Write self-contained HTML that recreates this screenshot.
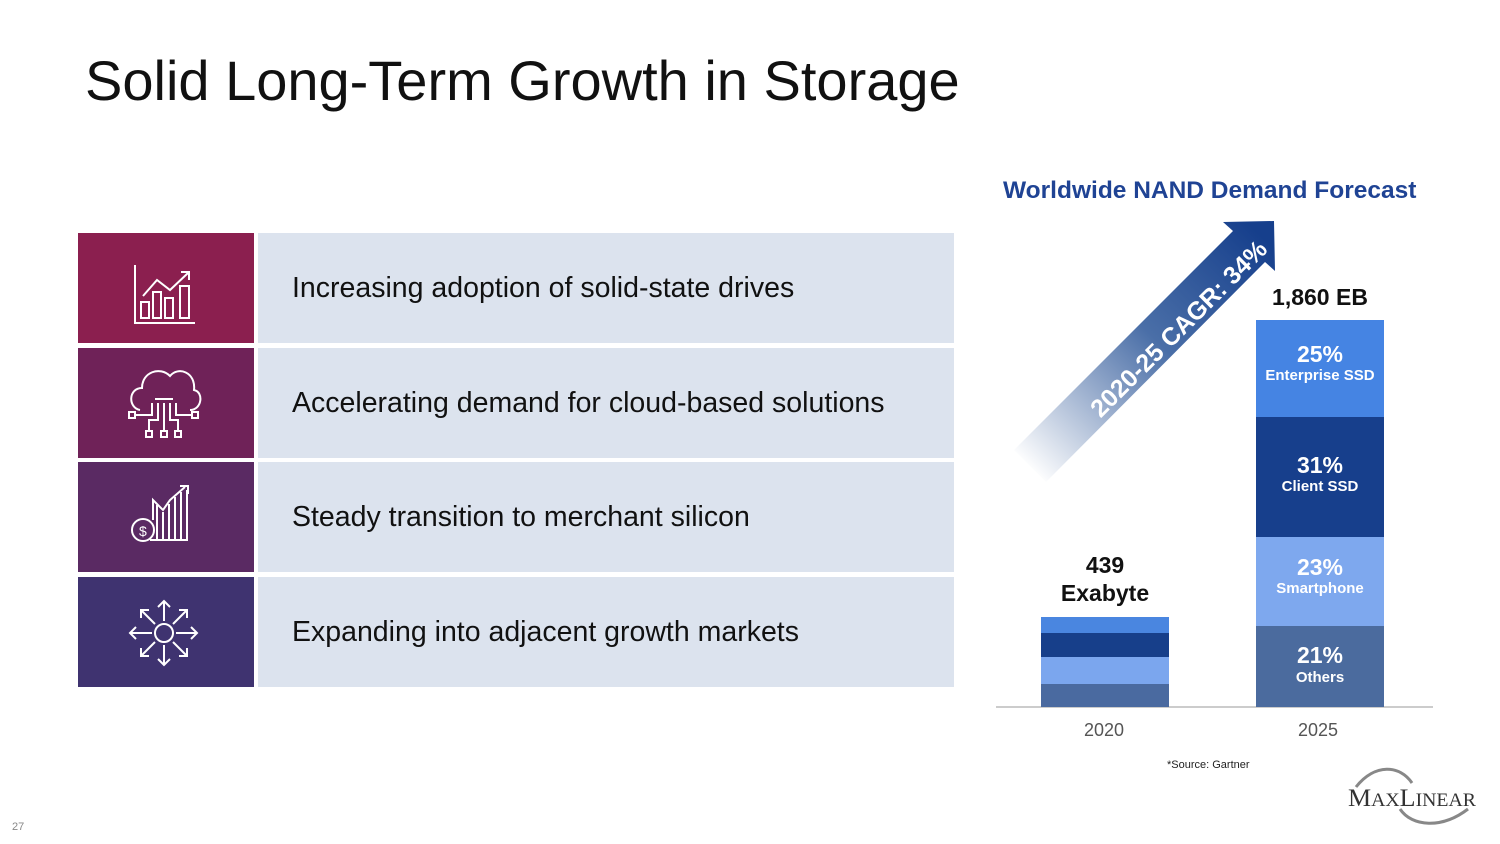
<!DOCTYPE html>
<html><head><meta charset="utf-8"><style>
body{margin:0;width:1500px;height:844px;background:#fff;position:relative;overflow:hidden;font-family:"Liberation Sans",sans-serif}
.a{position:absolute}
.ib{position:absolute;left:78px;width:176px;height:110px}
.tp{position:absolute;left:258px;width:696px;height:110px;background:#dce3ee;font-size:28.5px;color:#111;line-height:110px;box-sizing:border-box;padding-left:34px}
.seg{position:absolute;color:#fff;text-align:center;font-weight:bold}
</style></head><body>
<div class="a" style="left:85px;top:48px;font-size:56px;color:#111">Solid Long-Term Growth in Storage</div>

<div class="ib" style="top:233px;background:#8b1f4f"></div>
<div class="ib" style="top:348px;background:#6f2258"></div>
<div class="ib" style="top:462px;background:#5a2a63"></div>
<div class="ib" style="top:577px;background:#3f3370"></div>
<div class="tp" style="top:233px">Increasing adoption of solid-state drives</div>
<div class="tp" style="top:348px">Accelerating demand for cloud-based solutions</div>
<div class="tp" style="top:462px">Steady transition to merchant silicon</div>
<div class="tp" style="top:577px">Expanding into adjacent growth markets</div>

<svg class="a" style="left:0;top:0" width="1500" height="844" fill="none" stroke="#fff" stroke-width="2">
<path d="M135 265V323H195M141 318V302H149V318ZM153 318V292H161V318ZM165 318V298H173V318ZM180 318V286H189V318ZM143 296L157 280L170 290L188 273M181 272H189V280"/>
<path d="M140 410C128 408 128 388 142 388C142 372 160 366 170 376C178 366 196 372 194 390C204 392 202 410 190 410"/>
<path d="M155 399H173M152 403V415H135M158 403V420H149V430M164 403V430M170 403V420H178V430M176 403V415H192"/>
<rect x="129" y="412" width="6" height="6"/><rect x="192" y="412" width="6" height="6"/><rect x="146" y="431" width="6" height="6"/><rect x="161" y="431" width="6" height="6"/><rect x="175" y="431" width="6" height="6"/>
<circle cx="143" cy="530" r="11"/><path d="M150 540H187V490M153 520V500L163 510L170 500L185 487M180 486H188V494M157 540V505M163 540V512M169 540V504M175 540V497M181 540V492"/>
<text x="139" y="536" fill="#fff" stroke="none" font-size="14">$</text>
<circle cx="164" cy="633" r="9"/><path d="M164 621V602M158 607L164 601L170 607M164 645V665M158 659L164 665L170 659M152 633H131M136 627L130 633L136 639M176 633H197M191 627L197 633L191 639M155 624L141 610M141 618V610H149M173 624L187 610M179 610H187V618M155 642L141 656M141 648V656H149M173 642L187 656M187 648V656H179"/>
</svg>

<div class="a" style="left:1003px;top:177px;font-size:24.5px;font-weight:bold;color:#1f4394">Worldwide NAND Demand Forecast</div>

<svg class="a" style="left:0;top:0" width="1500" height="844">
<defs><linearGradient id="g" x1="1030" y1="470" x2="1260" y2="235" gradientUnits="userSpaceOnUse">
<stop offset="0" stop-color="#1f4a8f" stop-opacity="0"/><stop offset="0.55" stop-color="#2a5598" stop-opacity="0.85"/><stop offset="1" stop-color="#163f8c"/></linearGradient></defs>
<polygon fill="url(#g)" points="1014,450 1233,231 1223,222 1274,221 1275,271 1265,262 1046,482"/>
<text x="0" y="0" transform="translate(1180,330) rotate(-45)" text-anchor="middle" dominant-baseline="middle" fill="#fff" font-weight="bold" font-size="25" font-family="Liberation Sans">2020-25 CAGR: 34%</text>
<line x1="996" y1="707" x2="1433" y2="707" stroke="#bbb" stroke-width="1.5"/>
<rect x="1041" y="617" width="128" height="16" fill="#4a86e0"/>
<rect x="1041" y="633" width="128" height="24" fill="#173f8a"/>
<rect x="1041" y="657" width="128" height="27" fill="#7ba6ee"/>
<rect x="1041" y="684" width="128" height="23" fill="#4a6aa0"/>
<rect x="1256" y="320" width="128" height="97" fill="#4584e3"/>
<rect x="1256" y="417" width="128" height="120" fill="#173f8c"/>
<rect x="1256" y="537" width="128" height="89" fill="#7ea8ee"/>
<rect x="1256" y="626" width="128" height="81" fill="#4b6b9e"/>
</svg>

<div class="seg" style="left:1256px;width:128px;top:341px;font-size:23px">25%</div>
<div class="seg" style="left:1256px;width:128px;top:367px;font-size:15px">Enterprise SSD</div>
<div class="seg" style="left:1256px;width:128px;top:452px;font-size:23px">31%</div>
<div class="seg" style="left:1256px;width:128px;top:478px;font-size:15px">Client SSD</div>
<div class="seg" style="left:1256px;width:128px;top:554px;font-size:23px">23%</div>
<div class="seg" style="left:1256px;width:128px;top:580px;font-size:15px">Smartphone</div>
<div class="seg" style="left:1256px;width:128px;top:642px;font-size:23px">21%</div>
<div class="seg" style="left:1256px;width:128px;top:669px;font-size:15px">Others</div>

<div class="a" style="left:1240px;width:160px;text-align:center;top:284px;font-size:23px;font-weight:bold;color:#111">1,860 EB</div>
<div class="a" style="left:1025px;width:160px;text-align:center;top:551px;font-size:23px;font-weight:bold;color:#111;line-height:28px">439<br>Exabyte</div>
<div class="a" style="left:1044px;width:120px;text-align:center;top:720px;font-size:18px;color:#555">2020</div>
<div class="a" style="left:1258px;width:120px;text-align:center;top:720px;font-size:18px;color:#555">2025</div>
<div class="a" style="left:1167px;top:759px;font-size:11px;color:#222">*Source: Gartner</div>

<svg class="a" style="left:1340px;top:765px" width="150" height="65">
<path d="M16 22C35 -2 60 0 72 18" fill="none" stroke="#888" stroke-width="3"/>
<path d="M60 44C72 62 102 64 128 44" fill="none" stroke="#888" stroke-width="3"/>
<text x="8" y="41" font-family="Liberation Serif" font-size="25" fill="#333" textLength="128" lengthAdjust="spacingAndGlyphs">M<tspan font-size="19">AX</tspan>L<tspan font-size="19">INEAR</tspan></text>
</svg>
<div class="a" style="left:12px;top:821px;font-size:11px;color:#888">27</div>
</body></html>
